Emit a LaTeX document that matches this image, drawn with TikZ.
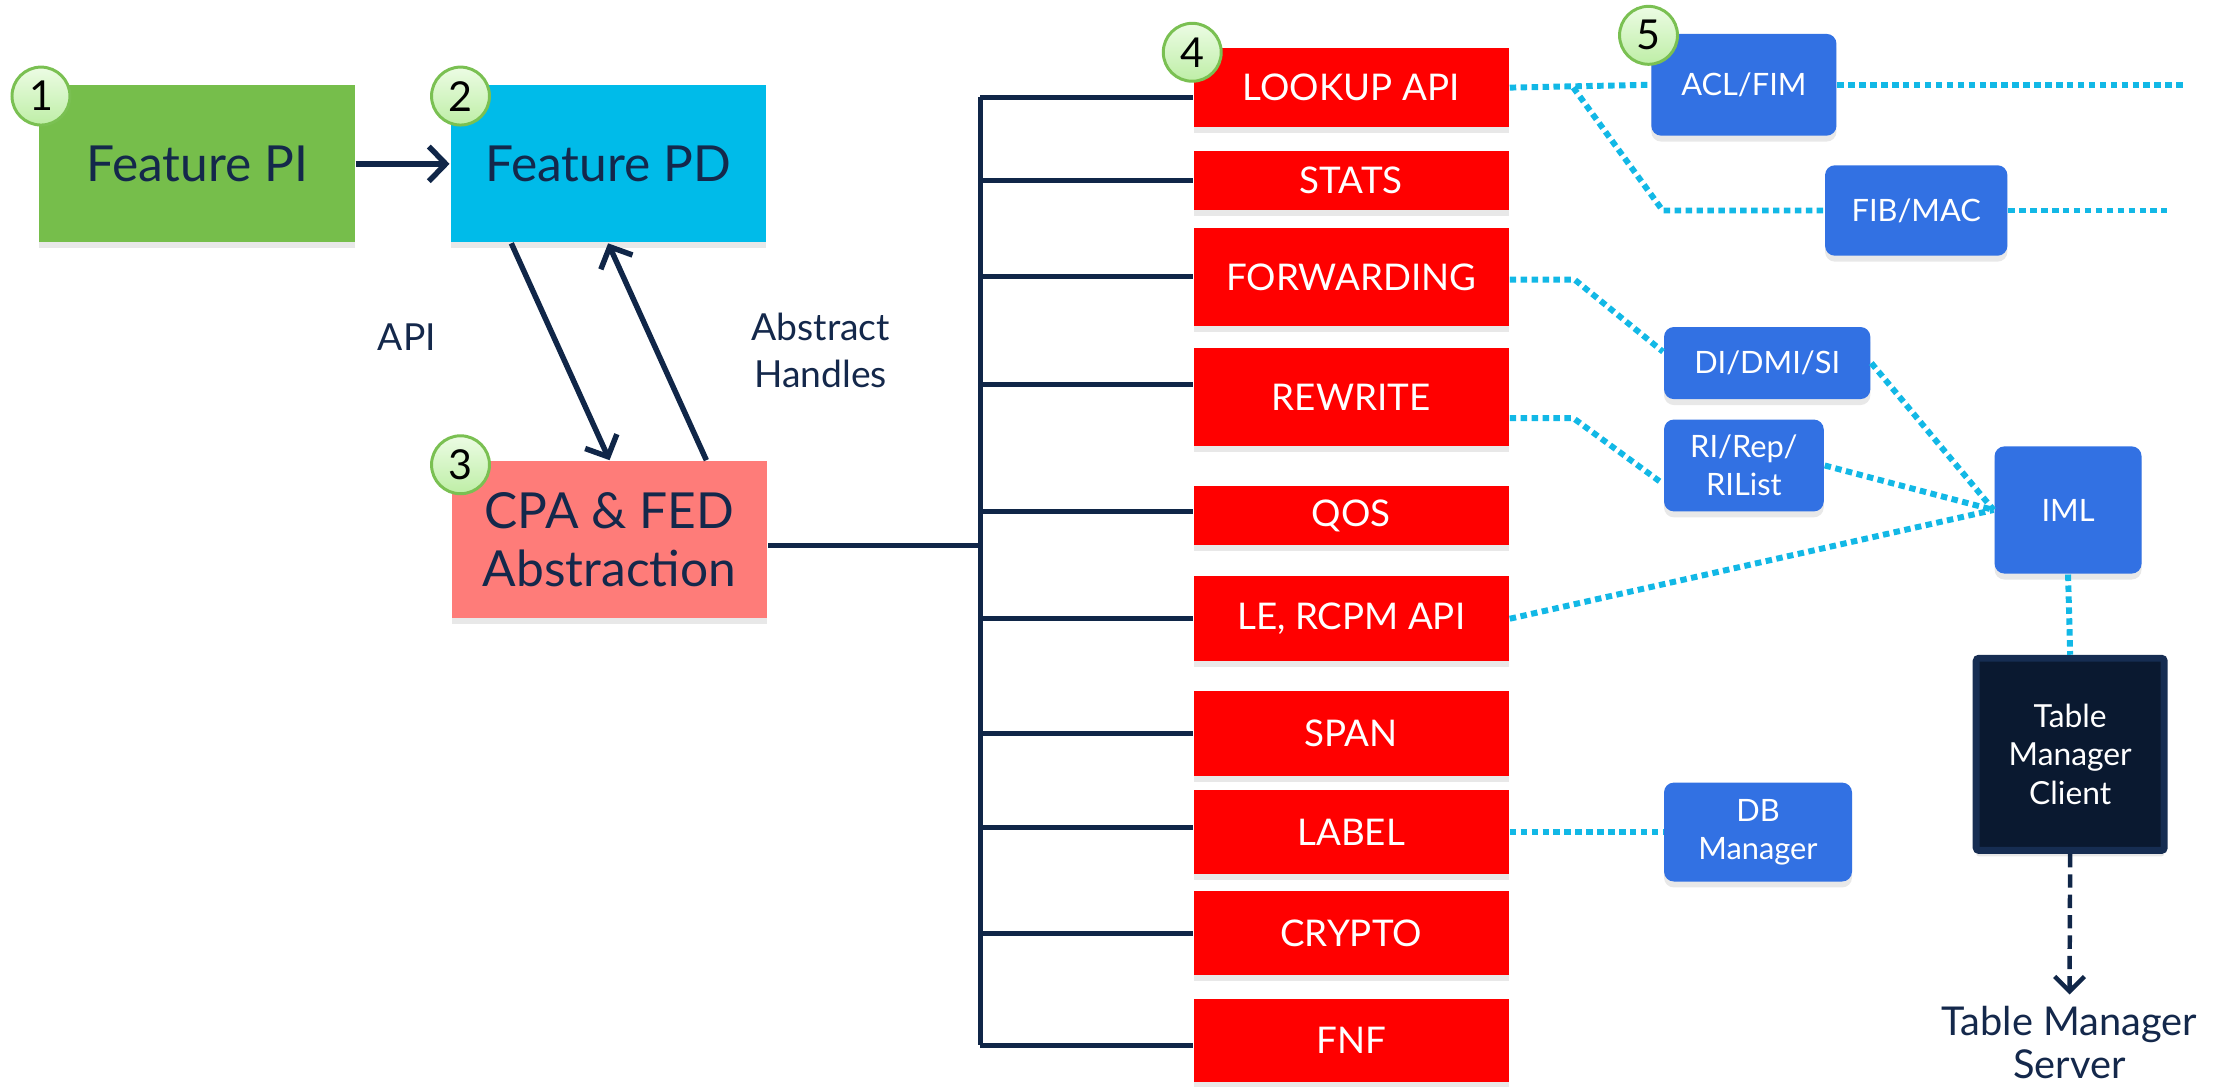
\documentclass[tikz,border=0pt]{standalone}
\usepackage{fontspec}
\setmainfont{Lato}
\usepackage{tikz}
\usetikzlibrary{arrows.meta,shadows,calc}
\usepackage{xcolor}

\definecolor{piGreen}{RGB}{118,190,75}
\definecolor{pdCyan}{RGB}{0,187,233}
\definecolor{cpaSalmon}{RGB}{254,124,121}
\definecolor{apiRed}{RGB}{255,0,0}
\definecolor{tblBlue}{RGB}{50,113,227}
\definecolor{busNavy}{RGB}{16,38,72}
\definecolor{textNavy}{RGB}{20,40,75}
\definecolor{dotCyan}{RGB}{18,184,230}
\definecolor{tmcFill}{RGB}{10,25,48}
\definecolor{tmcEdge}{RGB}{22,45,82}
\definecolor{badgeEdge}{RGB}{122,192,82}
\definecolor{badgeTop}{RGB}{236,252,228}
\definecolor{badgeBot}{RGB}{190,238,166}

\begin{document}
\begin{tikzpicture}[x=0.01cm,y=-0.01cm,
    boxshadow/.style={drop shadow={opacity=0.18,shadow xshift=0pt,shadow yshift=-1.2pt}},
    bigbox/.style={minimum width=2.23cm, minimum height=1.11cm, inner sep=0pt, align=center,
        text=textNavy, font=\fontsize{10}{11.7}\selectfont, boxshadow},
    apibox/.style={fill=apiRed, text=white, minimum width=2.23cm, inner sep=0pt,
        font=\fontsize{7.4}{8.6}\selectfont, boxshadow},
    tblbox/.style={fill=tblBlue, rounded corners=0.07cm, text=white, inner sep=0pt, align=center,
        font=\fontsize{6.2}{7.7}\selectfont, boxshadow},
    badge/.style={circle, draw=badgeEdge, line width=0.6pt, top color=badgeTop, bottom color=badgeBot,
        minimum size=0.41cm, inner sep=0pt, font=\fontsize{8.3}{9}\selectfont},
    bus/.style={draw=busNavy, line width=1pt},
    link/.style={draw=dotCyan, line width=1.2pt, dash pattern=on 1.3pt off 0.9pt},
    flow/.style={draw=busNavy, line width=1.1pt, -{Straight Barb[length=3.4pt,width=7pt]}},
    note/.style={text=textNavy, align=center, font=\fontsize{7.5}{9.4}\selectfont}
]
    \useasboundingbox (0,0) rectangle (1568,769);

    % Feature blocks
    \node[bigbox, fill=piGreen] (pi) at (139.5,116) {Feature PI};
    \node[bigbox, fill=pdCyan] (pd) at (430.5,116) {Feature PD};
    \node[bigbox, fill=cpaSalmon] (cpa) at (431.5,382) {CPA \& FED\\Abstraction};

    \draw[flow] (pi) -- (pd);
    \draw[flow] ([xshift=-0.685cm]pd.south) -- (cpa.north);
    \draw[flow] ([xshift=0.685cm]cpa.north) -- (pd.south);

    \node[note] (apilbl) at (288,239) {API};
    \node[note] (handles) at (581,248) {Abstract\\Handles};

    % API blocks
    \foreach \name/\y/\h/\txt in {lookup/62/56/{LOOKUP API}, stats/128/42/STATS,
        fwd/196/69/FORWARDING, rew/281/70/REWRITE, qos/365/42/QOS, le/438/60/{LE, RCPM API},
        span/519/60/SPAN, label/589/60/LABEL, crypto/660.5/59/CRYPTO, fnf/736.5/59/FNF} {
        \node[apibox, minimum height=\h*0.01cm] (\name) at (956.5,\y) {\txt};
    }

    % Bus
    \coordinate (bus) at (694,0);
    \draw[bus] ([yshift=-0.07cm]lookup.west -| bus) -- ([yshift=-0.035cm]fnf.west -| bus);
    \foreach \name/\dy in {lookup/7, stats/0, fwd/0, rew/-8.5, qos/-3, le/0, span/0, label/-3, crypto/0, fnf/3.5} {
        \draw[bus] ([yshift=-\dy*0.01cm]\name.west -| bus) -- ([yshift=-\dy*0.01cm]\name.west);
    }
    \draw[bus] ([yshift=-0.04cm]cpa.east) -- ([yshift=-0.04cm]cpa.east -| bus);

    % Tables
    \node[tblbox, minimum width=1.31cm, minimum height=0.72cm] (acl) at (1234.5,60) {ACL/FIM};
    \node[tblbox, minimum width=1.29cm, minimum height=0.64cm] (fib) at (1356.5,149) {FIB/MAC};
    \node[tblbox, minimum width=1.46cm, minimum height=0.51cm] (di) at (1251,257) {DI/DMI/SI};
    \node[tblbox, minimum width=1.13cm, minimum height=0.65cm] (ri) at (1234.5,329.5) {RI/Rep/\\RIList};
    \node[tblbox, minimum width=1.04cm, minimum height=0.90cm] (iml) at (1464,361) {IML};
    \node[tblbox, minimum width=1.33cm, minimum height=0.70cm] (db) at (1244.5,589) {DB\\Manager};
    \node[fill=tmcFill, draw=tmcEdge, line width=1.4pt, rounded corners=0.02cm, text=white, align=center,
        minimum width=1.33cm, minimum height=1.36cm, inner sep=0pt, font=\fontsize{6.4}{7.7}\selectfont,
        boxshadow] (tmc) at (1465.5,534) {Table\\Manager\\Client};
    \node[note, font=\fontsize{8}{8.6}\selectfont] (tms) at (1465,738) {Table Manager\\Server};

    % Dotted links
    \coordinate (aclEnd) at (1547,60);
    \coordinate (fibEnd) at (1534,149);
    \draw[link] (lookup.east) -- (acl.west);
    \draw[link] (acl.east) -- (aclEnd);
    \draw[link] ($(lookup.east)+(45,0)$) -- (1177,149) -- (fib.west);
    \draw[link] (fib.east) -- (fibEnd);
    \draw[link] ([yshift=-0.02cm]fwd.east) -- ++(46,0) -- ([yshift=0.08cm]di.west);
    \draw[link] (di.east) -- (iml.west);
    \draw[link] ([yshift=-0.15cm]rew.east) -- ++(45,0) -- ([yshift=-0.13cm]ri.west);
    \draw[link] (ri.east) -- (iml.west);
    \draw[link] (le.east) -- (iml.west);
    \draw[link] (iml.south) -- (tmc.north);
    \draw[link] (label.east) -- (db.west);

    % Table manager server
    \coordinate (tmsTop) at (1465,704);
    \draw[draw=busNavy, line width=0.9pt, dash pattern=on 2.7pt off 1.4pt,
        -{Straight Barb[length=3pt,width=6pt]}] (tmc.south) -- (tmsTop);

    % Badges
    \node[badge] (b1) at (29,68) {1};
    \node[badge] (b2) at (326,68) {2};
    \node[badge] (b3) at (326,329) {3};
    \node[badge] (b4) at (844,37) {4};
    \node[badge] (b5) at (1167,25) {5};
\end{tikzpicture}
\end{document}
